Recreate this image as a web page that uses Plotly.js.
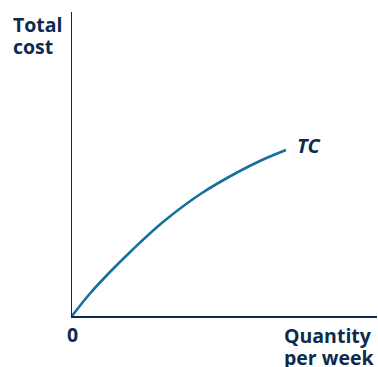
<!DOCTYPE html>
<html><head><meta charset="utf-8">
<script src="https://cdn.plot.ly/plotly-3.0.1.min.js"></script>
<style>html,body{margin:0;padding:0;background:#fff}#chart{width:378px;height:367px}</style>
</head><body><div id="chart"></div>
<script>
const quantity = [0, 18, 38, 60, 91, 130, 166, 190, 214];
const totalCost = [0, 22.5, 44, 65.8, 94, 123, 144, 156, 166];
const curveLabel = 'TC';
const xLabelLines = ['Quantity', 'per week'];
const yLabelLines = ['Total', 'cost'];
const originLabel = '0';

const navy = '#0c2b4f';
const blue = '#15709c';
const font = 'Open Sans, Noto Sans, sans-serif';
const fs = 19.5;
const PW = 305, PH = 304, L = 72, T = 12;
const px = v => (v - L) / PW;          // pixel x -> paper x
const py = v => (T + PH - v) / PH;     // pixel y -> paper y

const trace = {
  x: quantity, y: totalCost, mode: 'lines', type: 'scatter',
  line: {color: blue, width: 2.6, shape: 'spline', smoothing: 1},
  hoverinfo: 'skip', showlegend: false
};
function lbl(text, x, y, xanchor, extra) {
  return Object.assign({xref: 'paper', yref: 'paper', x: x, y: y, xanchor: xanchor, yanchor: 'middle',
    text: '<b>' + text + '</b>', showarrow: false, align: 'left', borderpad: 0,
    font: {family: font, size: fs, color: navy}}, extra || {});
}
const layout = {
  width: 378, height: 367,
  margin: {l: L, r: 1, t: T, b: 51},
  paper_bgcolor: '#fff', plot_bgcolor: '#fff',
  xaxis: {range: [0, PW], showgrid: false, zeroline: false, showticklabels: false, ticks: '',
    showline: true, linecolor: navy, linewidth: 1.5, fixedrange: true},
  yaxis: {range: [0, PH], showgrid: false, zeroline: false, showticklabels: false, ticks: '',
    showline: true, linecolor: navy, linewidth: 1.5, fixedrange: true},
  annotations: [
    lbl(yLabelLines[0], px(12), py(24.7), 'left'),
    lbl(yLabelLines[1], px(12), py(46.1), 'left'),
    {xref: 'x', yref: 'y', x: quantity[quantity.length-1] + 10, y: 316 - 145.4, xanchor: 'left', yanchor: 'middle',
      text: '<b><i>' + curveLabel + '</i></b>', showarrow: false, borderpad: 0,
      font: {family: font, size: 20, color: navy}},
    lbl(originLabel, px(72.5), py(334.4), 'center'),
    lbl(xLabelLines[0], px(283), py(335.1), 'left'),
    lbl(xLabelLines[1], px(283), py(357.2), 'left')
  ]
};
Plotly.newPlot('chart', [trace], layout, {staticPlot: true, displayModeBar: false});
</script></body></html>
